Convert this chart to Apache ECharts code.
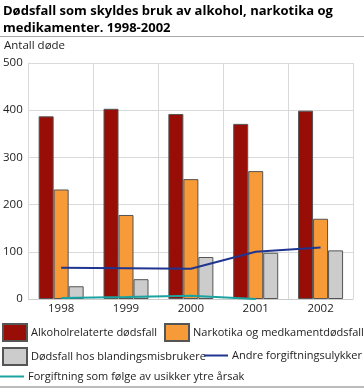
<!DOCTYPE html>
<html><head><meta charset="utf-8">
<script src="https://cdn.jsdelivr.net/npm/echarts@6/dist/echarts.min.js"></script>
<style>html,body{margin:0;padding:0;background:#fff}#c{width:364px;height:389px}</style>
</head><body><div id="c"></div>
<script>
const years = ['1998','1999','2000','2001','2002'];
const alkohol = [387, 403, 392, 371, 399];
const narkotika = [232, 178, 254, 271, 170];
const blanding = [27, 42, 89, 98, 103];
const andre = [66, 65, 64, 100, 109];
const usikker = [2, 4, 7, 0, null];
const yTicks = [0, 100, 200, 300, 400, 500];

const font = 'Open Sans';
const fs = 11.5;
const chart = echarts.init(document.getElementById('c'));
const barBorder = {borderColor: '#555', borderWidth: 1};
function leg(name, left, top, isLine) {
  return {orient: 'horizontal', left: left, top: top, padding: 0, selectedMode: false,
    itemWidth: 24, itemHeight: isLine ? 2 : 17, icon: 'rect',
    textStyle: {fontFamily: font, fontSize: 11, color: '#222', padding: [0, 0, 0, -1]},
    data: [name]};
}
chart.setOption({
  animation: false,
  textStyle: {fontFamily: font},
  graphic: [
    {type: 'text', left: 3, top: 3, style: {text: 'Dødsfall som skyldes bruk av alkohol, narkotika og\nmedikamenter. 1998-2002', font: 'bold 13px "Open Sans"', fill: '#000', lineHeight: 17}},
    {type: 'line', shape: {x1: 0, y1: 36.5, x2: 364, y2: 36.5}, style: {stroke: '#aaa', lineWidth: 1}},
    {type: 'line', shape: {x1: 0, y1: 387, x2: 364, y2: 387}, style: {stroke: '#bbb', lineWidth: 2}},
    {type: 'text', left: 4, top: 40, style: {text: 'Antall døde', font: fs + 'px "Open Sans"', fill: '#222'}}
  ],
  grid: {left: 28, right: 11, top: 63, bottom: 90},
  xAxis: {type: 'category', data: years, boundaryGap: true,
    axisLine: {lineStyle: {color: '#ccc'}}, axisTick: {show: false},
    splitLine: {show: true, lineStyle: {color: '#d9d9d9'}},
    axisLabel: {fontFamily: font, fontSize: fs, color: '#222', margin: 4}},
  yAxis: {type: 'value', min: yTicks[0], max: yTicks[yTicks.length-1], interval: 100,
    axisLine: {show: true, lineStyle: {color: '#d9d9d9'}}, axisTick: {show: false},
    splitLine: {lineStyle: {color: '#d9d9d9'}},
    axisLabel: {fontFamily: font, fontSize: fs, color: '#222', margin: 6}},
  legend: [
    leg('Alkoholrelaterte dødsfall', 2, 323, false),
    leg('Narkotika og medkamentdødsfall', 164, 323, false),
    leg('Dødsfall hos blandingsmisbrukere', 2, 347, false),
    leg('Andre forgiftningsulykker', 204, 350, true),
    leg('Forgiftning som følge av usikker ytre årsak', 0, 371, true)
  ],
  series: [
    {name: 'Alkoholrelaterte dødsfall', type: 'bar', data: alkohol, barWidth: 15, barGap: '0%',
      itemStyle: Object.assign({color: '#990d07'}, barBorder)},
    {name: 'Narkotika og medkamentdødsfall', type: 'bar', data: narkotika, barWidth: 15, barGap: '0%',
      itemStyle: Object.assign({color: '#f79a38'}, barBorder)},
    {name: 'Dødsfall hos blandingsmisbrukere', type: 'bar', data: blanding, barWidth: 15, barGap: '0%',
      itemStyle: Object.assign({color: '#cccccc'}, barBorder)},
    {name: 'Andre forgiftningsulykker', type: 'line', data: andre, symbol: 'none',
      lineStyle: {color: '#1f3590', width: 2}, itemStyle: {color: '#1f3590'}},
    {name: 'Forgiftning som følge av usikker ytre årsak', type: 'line', data: usikker, symbol: 'none',
      lineStyle: {color: '#1aa3a0', width: 2}, itemStyle: {color: '#1aa3a0'}}
  ]
});
</script></body></html>
